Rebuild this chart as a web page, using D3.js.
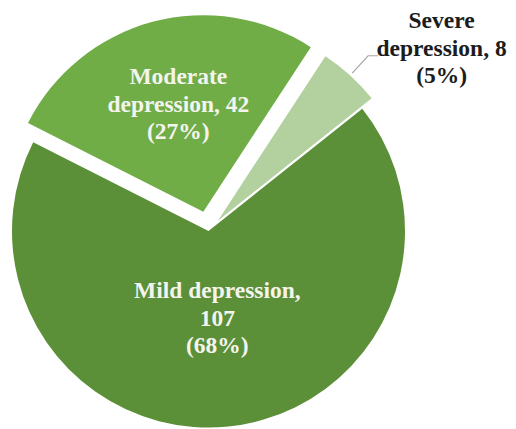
<!DOCTYPE html>
<html>
<head>
<meta charset="utf-8">
<script src="https://cdn.jsdelivr.net/npm/d3@7/dist/d3.min.js"></script>
<style>
  html, body { margin: 0; padding: 0; background: #ffffff; }
  svg { display: block; }
</style>
</head>
<body>
<svg id="chart" width="516" height="429"></svg>
<script>
// Depression severity counts
const categories = ["Mild depression", "Moderate depression", "Severe depression"];
const values = [107, 42, 8];

// Presentation settings per slice (same order as categories)
const colors = ["#5b8f38", "#70ad47", "#b3d19f"];
const explode = [0, 20, 14];           // px pulled out along the slice bisector
const labelWrap = ["comma", "word", "word"];
const labelInside = [true, true, false];
const labelRadius = [87, 112, 0];
const labelNudge = [[0, 0], [4, 0], [0, 0]];

const W = 516, H = 429;
const cx = 208.5, cy = 231, R = 196.5;
const startDeg = 51.5;
const labelFont = "'Liberation Serif', 'Times New Roman', Times, serif";

const svg = d3.select("#chart");
const total = d3.sum(values);

const data = categories.map((c, i) => ({ name: c, value: values[i], i }));

const pie = d3.pie()
  .sort(null)
  .value(d => d.value)
  .startAngle(startDeg * Math.PI / 180)
  .endAngle(startDeg * Math.PI / 180 + 2 * Math.PI);

const arc = d3.arc().innerRadius(0).outerRadius(R);
const arcs = pie(data);

const g = svg.append("g").attr("transform", `translate(${cx},${cy})`);

function polar(r, a) { return [r * Math.sin(a), -r * Math.cos(a)]; }

const slices = g.selectAll("g.slice")
  .data(arcs)
  .join("g")
  .attr("class", "slice")
  .attr("transform", d => {
    const mid = (d.startAngle + d.endAngle) / 2;
    const [dx, dy] = polar(explode[d.data.i], mid);
    return `translate(${dx},${dy})`;
  });

slices.append("path")
  .attr("d", arc)
  .attr("fill", d => colors[d.data.i]);

function labelLines(d) {
  const pct = Math.round(d.value / total * 100) + "%";
  const words = d.name.split(" ");
  if (labelWrap[d.i] === "comma") {
    return [d.name + ",", String(d.value), "(" + pct + ")"];
  }
  return [words[0], words.slice(1).join(" ") + ", " + d.value, "(" + pct + ")"];
}

const lineH = 27.5;

slices.each(function (d) {
  const sel = d3.select(this);
  const i = d.data.i;
  const mid = (d.startAngle + d.endAngle) / 2;
  const lines = labelLines(d.data);
  let x, y, fill;
  if (labelInside[i]) {
    [x, y] = polar(labelRadius[i], mid);
    x += labelNudge[i][0];
    y += labelNudge[i][1];
    fill = "#f4f4ee";
  } else {
    const [sx, sy] = polar(R + 3, mid);
    const [ex, ey] = polar(R * 1.135, mid);
    sel.append("polyline")
      .attr("points", [[sx, sy], [ex, ey], [ex + 10, ey]].map(p => p.join(",")).join(" "))
      .attr("fill", "none")
      .attr("stroke", "#a6a6a6")
      .attr("stroke-width", 1.2);
    x = ex + 73.5;
    y = ey - 8;
    fill = "#1c1c1c";
  }
  const t = sel.append("text")
    .attr("font-family", labelFont)
    .attr("font-weight", "bold")
    .attr("font-size", 23.5)
    .attr("text-anchor", "middle")
    .attr("fill", fill);
  lines.forEach((ln, k) => {
    t.append("tspan")
      .attr("x", x)
      .attr("y", y + (k - 1) * lineH + 8)
      .text(ln);
  });
});
</script>
</body>
</html>
